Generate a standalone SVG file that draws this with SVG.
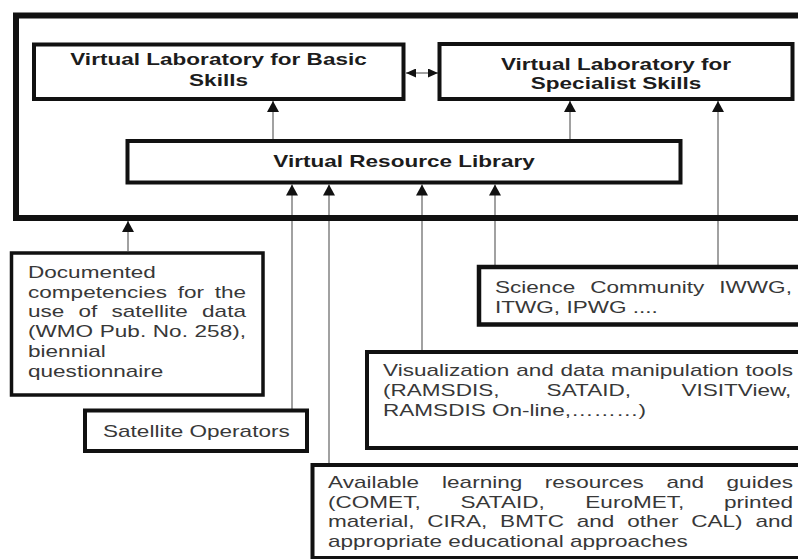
<svg xmlns="http://www.w3.org/2000/svg" width="798" height="559" viewBox="0 0 798 559">
  <style>
    .box { fill: #ffffff; stroke: #111111; stroke-width: 4; }
    .frame { fill: none; stroke: #111111; stroke-width: 6; }
    .link { fill: none; stroke: #8a8a8a; stroke-width: 1.6; }
    .b { font-family: "Liberation Sans", Arial, sans-serif; font-weight: bold; font-size: 16px; fill: #1c1c1c; }
    .r { font-family: "Liberation Sans", Arial, sans-serif; font-size: 16px; fill: #383838; }
    .c { text-anchor: middle; }
  </style>
  <defs>
    <marker id="head" viewBox="0 0 11 12" refX="11" refY="6" markerWidth="11" markerHeight="12" markerUnits="userSpaceOnUse" orient="auto">
      <path d="M0,0 L11,6 L0,12 Z" fill="#111111"/>
    </marker>
    <marker id="headSmall" viewBox="0 0 10 9" refX="10" refY="4.5" markerWidth="10" markerHeight="9" markerUnits="userSpaceOnUse" orient="auto-start-reverse">
      <path d="M0,0 L10,4.5 L0,9 Z" fill="#111111"/>
    </marker>
  </defs>

  <!-- connectors -->
  <g id="connectors">
    <line class="link" x1="273" y1="139" x2="273" y2="101" marker-end="url(#head)"/>
    <line class="link" x1="570" y1="139" x2="570" y2="101" marker-end="url(#head)"/>
    <line class="link" x1="718" y1="265" x2="718" y2="101" marker-end="url(#head)"/>
    <line class="link" x1="292" y1="409" x2="292" y2="184.5" marker-end="url(#head)"/>
    <line class="link" x1="329" y1="463" x2="329" y2="184.5" marker-end="url(#head)"/>
    <line class="link" x1="422" y1="350" x2="422" y2="184.5" marker-end="url(#head)"/>
    <line class="link" x1="495" y1="265" x2="495" y2="184.5" marker-end="url(#head)"/>
    <line class="link" x1="128" y1="251" x2="128" y2="221" marker-end="url(#head)"/>
    <line class="link" x1="406" y1="73" x2="438" y2="73" marker-start="url(#headSmall)" marker-end="url(#headSmall)"/>
  </g>

  <!-- enclosing frame of the e-learning platform -->
  <g id="platform">
    <rect class="frame" x="16" y="15.5" width="800" height="202.5"/>
  </g>

  <g id="basic-lab">
    <rect class="box" x="34" y="44.5" width="369.5" height="54.5"/>
    <text class="b c" transform="matrix(1.41 0 0 1 218.5 65)">Virtual Laboratory for Basic</text>
    <text class="b c" transform="matrix(1.41 0 0 1 218.5 86)">Skills</text>
  </g>

  <g id="specialist-lab">
    <rect class="box" x="439.5" y="44" width="353" height="55"/>
    <text class="b c" transform="matrix(1.41 0 0 1 616 70)">Virtual Laboratory for</text>
    <text class="b c" transform="matrix(1.41 0 0 1 616 89)">Specialist Skills</text>
  </g>

  <g id="resource-library">
    <rect class="box" x="127.5" y="141" width="553" height="41.5"/>
    <text class="b c" transform="matrix(1.41 0 0 1 404 167)">Virtual Resource Library</text>
  </g>

  <g id="competencies">
    <rect class="box" x="11.5" y="253" width="251.5" height="142" style="stroke-width:3.5"/>
    <text class="r" transform="matrix(1.41 0 0 1 28 278)">Documented</text>
    <text class="r" transform="matrix(1.41 0 0 1 28 297.7)"><tspan x="0">competencies</tspan><tspan x="106.2">for</tspan><tspan x="132.37">the</tspan></text>
    <text class="r" transform="matrix(1.41 0 0 1 28 317.4)"><tspan x="0">use</tspan><tspan x="35.82">of</tspan><tspan x="59.19">satellite</tspan><tspan x="123.46">data</tspan></text>
    <text class="r" transform="matrix(1.41 0 0 1 28 337.1)"><tspan x="0">(WMO</tspan><tspan x="50.92">Pub.</tspan><tspan x="88.54">No.</tspan><tspan x="118.15">258),</tspan></text>
    <text class="r" transform="matrix(1.41 0 0 1 28 356.8)">biennial</text>
    <text class="r" transform="matrix(1.41 0 0 1 28 376.5)">questionnaire</text>
  </g>

  <g id="satellite-operators">
    <rect class="box" x="85" y="410.5" width="222" height="40.5"/>
    <text class="r" transform="matrix(1.41 0 0 1 103 436.5)">Satellite Operators</text>
  </g>

  <g id="science-community">
    <rect class="box" x="479" y="267" width="340" height="57.5" style="stroke-width:4.5"/>
    <text class="r" transform="matrix(1.41 0 0 1 495 292.5)"><tspan x="0">Science</tspan><tspan x="67.53">Community</tspan><tspan x="159.05">IWWG,</tspan></text>
    <text class="r" transform="matrix(1.41 0 0 1 495 313)">ITWG, IPWG ....</text>
  </g>

  <g id="visualization-tools">
    <rect class="box" x="367" y="352" width="450" height="96"/>
    <text class="r" transform="matrix(1.41 0 0 1 383 376)"><tspan x="0">Visualization</tspan><tspan x="94.48">and</tspan><tspan x="125.84">data</tspan><tspan x="161.65">manipulation</tspan><tspan x="257.02">tools</tspan></text>
    <text class="r" transform="matrix(1.41 0 0 1 383 396)"><tspan x="0">(RAMSDIS,</tspan><tspan x="116.05">SATAID,</tspan><tspan x="211.67">VISITView,</tspan></text>
    <text class="r" transform="matrix(1.41 0 0 1 383 416)">RAMSDIS On-line,………)</text>
  </g>

  <g id="learning-resources">
    <rect class="box" x="312.5" y="465" width="505" height="93"/>
    <text class="r" transform="matrix(1.41 0 0 1 328 488)"><tspan x="0">Available</tspan><tspan x="80.89">learning</tspan><tspan x="153.78">resources</tspan><tspan x="240">and</tspan><tspan x="282.67">guides</tspan></text>
    <text class="r" transform="matrix(1.41 0 0 1 328 507.7)"><tspan x="0">(COMET,</tspan><tspan x="93.91">SATAID,</tspan><tspan x="182.51">EuroMET,</tspan><tspan x="280.89">printed</tspan></text>
    <text class="r" transform="matrix(1.41 0 0 1 328 527.4)"><tspan x="0">material,</tspan><tspan x="70.37">CIRA,</tspan><tspan x="122.07">BMTC</tspan><tspan x="176.43">and</tspan><tspan x="212.15">other</tspan><tspan x="257.64">CAL)</tspan><tspan x="303.12">and</tspan></text>
    <text class="r" transform="matrix(1.41 0 0 1 328 547.1)">appropriate educational approaches</text>
  </g>
</svg>
